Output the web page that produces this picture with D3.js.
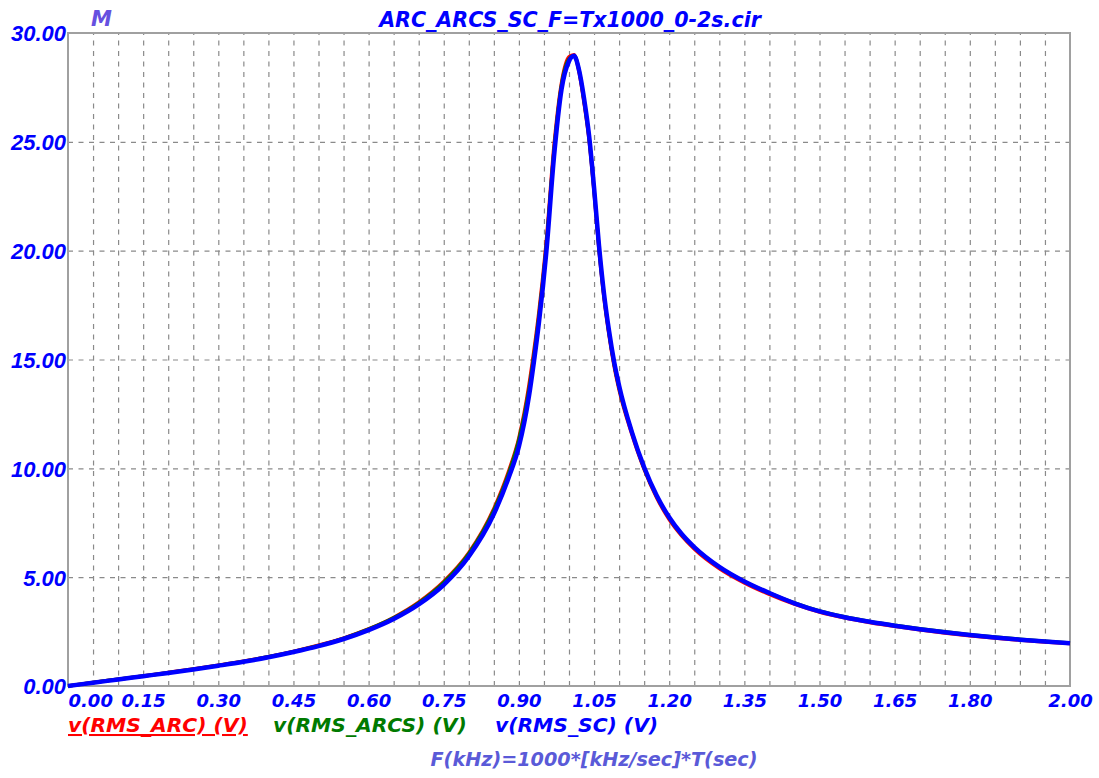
<!DOCTYPE html>
<html>
<head>
<meta charset="utf-8">
<script src="https://cdn.jsdelivr.net/npm/d3@7"></script>
<style>
    body { margin: 0; background: #ffffff; }
    svg { display: block; }
</style>
</head>
<body>
<div id="vis"></div>
<script>
/* Resonance curves of the three RMS voltages, F = 0..2 kHz */

// Frequency points (kHz) shared by all three curves
var freq = [0, 0.05, 0.10, 0.15, 0.20, 0.25, 0.30, 0.35, 0.40, 0.45, 0.50, 0.55, 0.60, 0.65,
    0.70, 0.75, 0.80, 0.85, 0.88, 0.90, 0.92, 0.93, 0.94, 0.955, 0.97, 0.985, 1.00, 1.01,
    1.02, 1.03, 1.04, 1.05, 1.06, 1.07, 1.08, 1.09, 1.10, 1.125, 1.15, 1.175, 1.20, 1.225,
    1.25, 1.30, 1.35, 1.40, 1.45, 1.50, 1.55, 1.60, 1.65, 1.70, 1.75, 1.80, 1.85, 1.90,
    1.95, 2.00];

// v(RMS_ARC) (V)
var vArc = [0, 0.16, 0.31, 0.46, 0.62, 0.78, 0.95, 1.14, 1.35, 1.59, 1.87, 2.20, 2.62, 3.15,
    3.85, 4.80, 6.12, 8.15, 9.90, 11.4, 13.8, 15.4, 17.2, 20.5, 24.8, 27.7, 28.9, 29.0,
    28.2, 26.8, 25.1, 22.7, 20.0, 17.8, 16.1, 14.7, 13.6, 11.6, 9.95, 8.65, 7.65, 6.90,
    6.30, 5.40, 4.74, 4.21, 3.76, 3.40, 3.13, 2.92, 2.74, 2.58, 2.44, 2.31, 2.20, 2.11,
    2.02, 1.95];

// v(RMS_ARCS) (V)
var vArcs = [0, 0.16, 0.31, 0.46, 0.61, 0.77, 0.94, 1.13, 1.34, 1.58, 1.85, 2.19, 2.61, 3.13,
    3.82, 4.76, 6.08, 8.08, 9.80, 11.3, 13.6, 15.2, 17.0, 20.3, 24.6, 27.6, 28.8, 28.95,
    28.3, 26.9, 25.2, 22.8, 20.1, 17.9, 16.2, 14.8, 13.7, 11.7, 10.0, 8.72, 7.72, 6.95,
    6.36, 5.46, 4.80, 4.27, 3.82, 3.45, 3.18, 2.97, 2.79, 2.63, 2.49, 2.36, 2.25, 2.15,
    2.06, 1.98];

// v(RMS_SC) (V)
var vSc = [0, 0.15, 0.30, 0.45, 0.60, 0.76, 0.93, 1.11, 1.32, 1.56, 1.83, 2.16, 2.57, 3.08,
    3.75, 4.65, 5.95, 7.90, 9.60, 11.0, 13.3, 14.9, 16.7, 20.0, 24.3, 27.4, 28.7, 28.95,
    28.3, 27.0, 25.3, 22.9, 20.2, 18.0, 16.3, 14.9, 13.8, 11.7, 10.05, 8.75, 7.75, 6.98,
    6.38, 5.47, 4.80, 4.27, 3.80, 3.43, 3.16, 2.95, 2.77, 2.61, 2.47, 2.34, 2.23, 2.13,
    2.04, 1.96];

// Tick labels
var xTicks = [0, 0.15, 0.30, 0.45, 0.60, 0.75, 0.90, 1.05, 1.20, 1.35, 1.50, 1.65, 1.80, 2.00];
var yTicks = [0, 5, 10, 15, 20, 25, 30];
var seriesNames = ['v(RMS_ARC) (V)', 'v(RMS_ARCS) (V)', 'v(RMS_SC) (V)'];

// Plot frame inside the 1099 x 778 picture
var margin = { left: 68, top: 33, right: 29, bottom: 92 };
var width = 1099 - margin.left - margin.right;
var height = 778 - margin.top - margin.bottom;

var svg = d3.select('#vis')
    .append('svg')
    .attr('width', 1099)
    .attr('height', 778);

var g = svg.append('g')
    .attr('transform', 'translate(' + margin.left + ',' + margin.top + ')');

/* ********************************** Scales ********************************** */
var xScale = d3.scaleLinear().domain([0, 2]).range([0, width]);
var yScale = d3.scaleLinear().domain([0, 30]).range([height, 0]);

/* ********************************** Grid ********************************** */
// Vertical dashed grid every 0.05 kHz
var xGrid = d3.axisBottom(xScale)
    .tickValues(d3.range(1, 40).map(function(i) { return i * 0.05; }))
    .tickSize(-height)
    .tickFormat('');

g.append('g')
    .attr('class', 'grid')
    .attr('transform', 'translate(0,' + height + ')')
    .call(xGrid);

// Horizontal dashed grid every 5 V
var yGrid = d3.axisLeft(yScale)
    .tickValues(yTicks.slice(1, -1))
    .tickSize(-width)
    .tickFormat('');

g.append('g')
    .attr('class', 'grid')
    .call(yGrid);

g.selectAll('.grid .domain').remove();
g.selectAll('.grid line')
    .attr('stroke', '#8a8a8a')
    .attr('stroke-width', 1.2)
    .attr('stroke-dasharray', '5,5.5');

// Frame
g.append('rect')
    .attr('x', 0)
    .attr('y', 0)
    .attr('width', width)
    .attr('height', height)
    .attr('fill', 'none')
    .attr('stroke', '#a0a0a0')
    .attr('stroke-width', 2);

/* ********************************** Axes labels ********************************** */
var xAxis = d3.axisBottom(xScale)
    .tickValues(xTicks)
    .tickSize(0)
    .tickPadding(0)
    .tickFormat(d3.format('.2f'));

var xAxisG = g.append('g')
    .attr('transform', 'translate(0,' + height + ')')
    .call(xAxis);

xAxisG.select('.domain').remove();
xAxisG.selectAll('text')
    .attr('y', 21)
    .attr('dy', 0)
    .attr('fill', '#0000ff')
    .style('font-family', '"DejaVu Sans", sans-serif')
    .style('font-size', '18px')
    .style('font-weight', 'bold')
    .style('font-style', 'italic');

// First label starts at the left edge
xAxisG.selectAll('text')
    .filter(function(d) { return d === 0; })
    .attr('text-anchor', 'start');

var yAxis = d3.axisLeft(yScale)
    .tickValues(yTicks)
    .tickSize(0)
    .tickPadding(2)
    .tickFormat(d3.format('.2f'));

var yAxisG = g.append('g').call(yAxis);

yAxisG.select('.domain').remove();
yAxisG.selectAll('text')
    .attr('dy', '0.36em')
    .attr('fill', '#0000ff')
    .style('font-family', '"Liberation Sans", Arial, sans-serif')
    .style('font-size', '22px')
    .style('font-weight', 'bold')
    .style('font-style', 'italic');

/* ********************************** Curves ********************************** */
var line = d3.line()
    .x(function(d) { return xScale(d[0]); })
    .y(function(d) { return yScale(d[1]); })
    .curve(d3.curveMonotoneX);

var series = [
    { values: vArc, color: '#ff0000', w: 3.5 },
    { values: vArcs, color: '#007a00', w: 3.5 },
    { values: vSc, color: '#0000ff', w: 4.5 }
];

series.forEach(function(s) {
    var pts = freq.map(function(f, i) { return [f, s.values[i]]; });
    g.append('path')
        .datum(pts)
        .attr('d', line)
        .attr('fill', 'none')
        .attr('stroke', s.color)
        .attr('stroke-width', s.w)
        .attr('stroke-linejoin', 'round');
});

/* ********************************** Texts ********************************** */
var textStyle = function(sel, size) {
    sel.style('font-family', '"DejaVu Sans", sans-serif')
        .style('font-size', size + 'px')
        .style('font-weight', 'bold')
        .style('font-style', 'italic');
};

svg.append('text')
    .attr('x', 570)
    .attr('y', 27)
    .attr('text-anchor', 'middle')
    .attr('fill', '#0000ff')
    .text('ARC_ARCS_SC_F=Tx1000_0-2s.cir')
    .call(textStyle, 20.6);

svg.append('text')
    .attr('x', 91)
    .attr('y', 26)
    .attr('fill', '#6650e0')
    .text('M')
    .call(textStyle, 21);

// Legend
var legendX = [68, 273, 495];
var legendColors = ['#ff0000', '#007a00', '#0000ff'];

seriesNames.forEach(function(name, i) {
    svg.append('text')
        .attr('x', legendX[i])
        .attr('y', 732)
        .attr('fill', legendColors[i])
        .style('text-decoration', i === 0 ? 'underline' : 'none')
        .text(name)
        .call(textStyle, 20.3);
});

// X axis title
svg.append('text')
    .attr('x', 594)
    .attr('y', 766)
    .attr('text-anchor', 'middle')
    .attr('fill', '#5a5ad8')
    .text('F(kHz)=1000*[kHz/sec]*T(sec)')
    .call(textStyle, 19.2);
</script>
</body>
</html>
